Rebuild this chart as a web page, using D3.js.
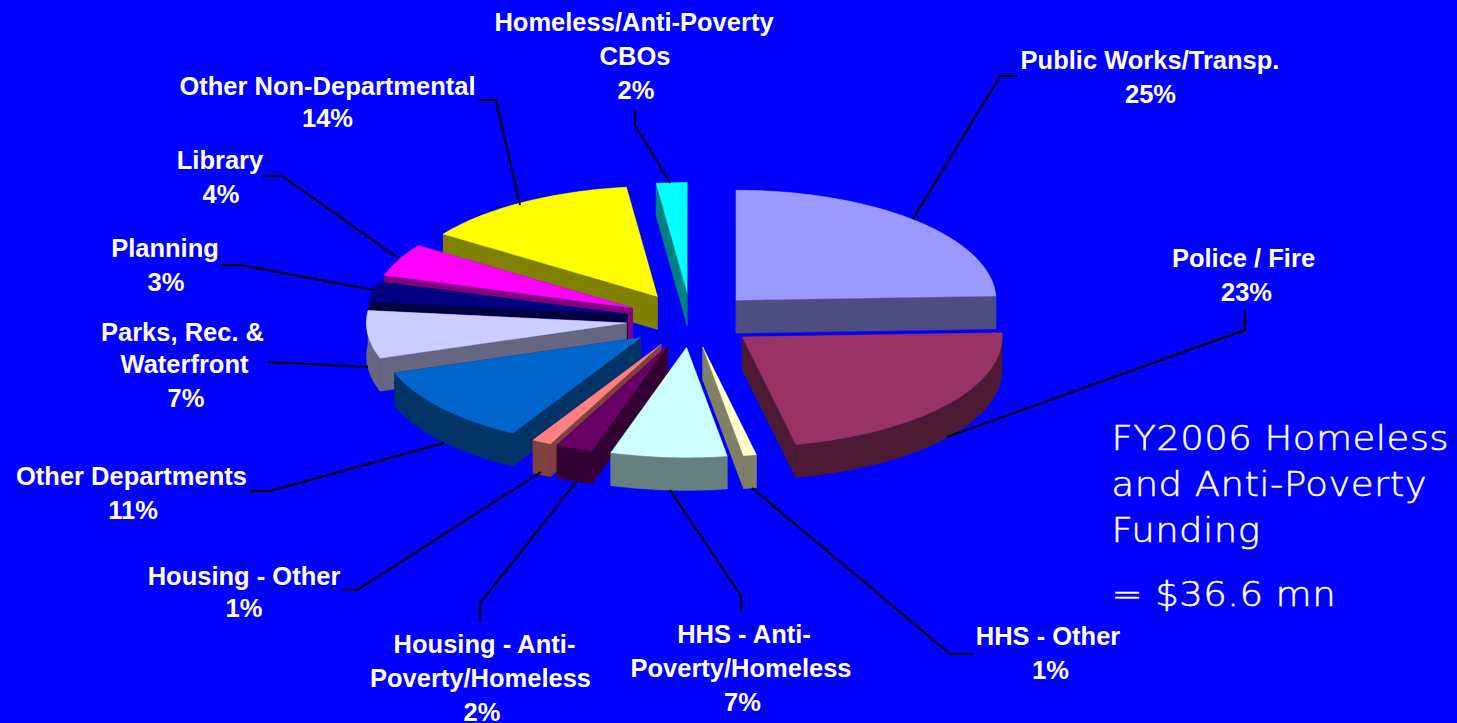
<!DOCTYPE html>
<html><head><meta charset="utf-8">
<script src="https://cdn.jsdelivr.net/npm/d3@7/dist/d3.min.js"></script>
<style>
html,body{margin:0;padding:0;background:#0000ff;overflow:hidden}
svg{display:block}
</style></head><body>
<svg id="chart" width="1457" height="723"></svg>
<script>
// ---- data ----
const categories = ["Public Works/Transp.","Police / Fire","HHS - Other","HHS - Anti-Poverty/Homeless","Housing - Anti-Poverty/Homeless","Housing - Other","Other Departments","Parks, Rec. & Waterfront","Planning","Library","Other Non-Departmental","Homeless/Anti-Poverty CBOs"];
// slice sizes as they are drawn in the picture (angles)
const drawnShares = [24.4,22.3,0.8,7.2,2.3,1.2,11.6,7,3,4.8,13.5,1.9];
// percentages as printed on the labels
const printedPercents = [25,23,1,7,2,1,11,7,3,4,14,2];
const topColors  = ["#9999ff","#993366","#ffffcc","#ccffff","#660066","#ff8080","#0066cc","#ccccff","#000080","#ff00ff","#ffff00","#00ffff"];
const sideColors = ["#4d4d80","#4d1a33","#808066","#668080","#330033","#804040","#003366","#666680","#000040","#800080","#808000","#008080"];
const titleLines = ["FY2006 Homeless","and Anti-Poverty","Funding"];
const totalLine = "= $36.6 mn";

// ---- label layout: text lines, centre x and baseline of each line (last = percent), leader polyline ----
const labelLayout = [
 {lines:["Public Works/Transp."],xs:[1150,1150.5],ys:[69,103],leader:[[1017,76],[1000,76],[913,219]]},
 {lines:["Police / Fire"],xs:[1243.5,1246.5],ys:[267,301],leader:[[1245,311],[1245,330],[947,437]]},
 {lines:["HHS - Other"],xs:[1048,1050.5],ys:[645,679],leader:[[973,654],[950,654],[752,488]]},
 {lines:["HHS - Anti-","Poverty/Homeless"],xs:[744,741,742.5],ys:[643,677,711],leader:[[741,611],[741,596],[670,490]]},
 {lines:["Housing - Anti-","Poverty/Homeless"],xs:[484.5,480.5,482],ys:[653,687,721],leader:[[480,622],[480,603],[577,481]]},
 {lines:["Housing - Other"],xs:[244,244],ys:[585,617],leader:[[342,590],[357,590],[541,472]]},
 {lines:["Other Departments"],xs:[131.5,133],ys:[485,519],leader:[[250,491],[270,491],[444,443]]},
 {lines:["Parks, Rec. &","Waterfront"],xs:[182.5,184.5,186],ys:[341,373,407],leader:[[268,362],[368,367]]},
 {lines:["Planning"],xs:[165,166],ys:[257,291],leader:[[222,265],[240,265],[374,290]]},
 {lines:["Library"],xs:[220,221],ys:[169,203],leader:[[263,176],[282,176],[398,258]]},
 {lines:["Other Non-Departmental"],xs:[327.5,327.5],ys:[95,127],leader:[[478,100],[496,100],[520,205]]},
 {lines:["Homeless/Anti-Poverty","CBOs"],xs:[634,635,636],ys:[31,65,99],leader:[[635,109],[635,125],[670,183]]}
];

// ---- pie geometry ----
const centre = {x:691,y:320}, rx = 260, tilt = 0.423, explode = 65, depth = 33;
const svg = d3.select("#chart");
svg.append("rect").attr("width",1457).attr("height",723).attr("fill","#0000ff");

const pie = d3.pie().sort(null).value(d=>d.share);
const rows = categories.map((name,i)=>({name,share:drawnShares[i],pct:printedPercents[i],top:topColors[i],side:sideColors[i],layout:labelLayout[i]}));
const slices = pie(rows);
const rScale = d3.scaleLinear().domain([0,1]).range([0,rx]);
const project = (a,r,ox,oy,dz)=>[centre.x+ox+Math.sin(a)*rScale(r), centre.y+oy+dz-Math.cos(a)*rScale(r)*tilt];
const line = d3.line();

slices.forEach(s=>{
  const mid=(s.startAngle+s.endAngle)/2;
  s.ox=Math.sin(mid)*explode; s.oy=-Math.cos(mid)*explode*tilt; s.mid=mid;
  const n=Math.max(4,Math.ceil((s.endAngle-s.startAngle)/0.02));
  s.samples=d3.range(n+1).map(k=>s.startAngle+(s.endAngle-s.startAngle)*k/n);
});
const drawOrder = slices.slice().sort((a,b)=>d3.ascending(-Math.cos(a.mid),-Math.cos(b.mid)));

const g = svg.append("g");
drawOrder.forEach(s=>{
  const P=(a,r,dz)=>project(a,r,s.ox,s.oy,dz);
  const slice=g.append("g").attr("class","slice");
  const wall=(pts)=>slice.append("path").attr("d",line(pts)+"Z").attr("fill",s.data.side).attr("stroke",s.data.side).attr("stroke-width",.4);
  wall([P(s.startAngle,0,0),P(s.startAngle,1,0),P(s.startAngle,1,depth),P(s.startAngle,0,depth)]);
  wall([P(s.endAngle,0,0),P(s.endAngle,1,0),P(s.endAngle,1,depth),P(s.endAngle,0,depth)]);
  wall(s.samples.map(a=>P(a,1,0)).concat(s.samples.slice().reverse().map(a=>P(a,1,depth))));
  slice.append("path").attr("d",line([P(0,0,0)].concat(s.samples.map(a=>P(a,1,0))))+"Z").attr("fill",s.data.top).attr("stroke",s.data.top).attr("stroke-width",.4);
});

// ---- leaders ----
slices.forEach(s=>{
  g.append("path").attr("d",line(s.data.layout.leader)).attr("fill","none").attr("stroke","#000").attr("stroke-width",2);
});

// ---- labels ----
slices.forEach(s=>{
  const L=s.data.layout;
  const t=svg.append("text").attr("font-family","'Liberation Sans',Arial,sans-serif").attr("font-weight","700").attr("font-size",25.5).attr("fill","#fff").attr("text-anchor","middle");
  L.lines.concat([s.data.pct+"%"]).forEach((txt,i)=>{
    t.append("tspan").attr("x",L.xs[i]).attr("y",L.ys[i]).text(txt);
  });
});

// ---- title ----
const titleFont="'DejaVu Sans',sans-serif";
const addTitle=(txt,y)=>svg.append("text")
  .attr("transform",`translate(1111.5,${y}) scale(1.09,1)`)
  .attr("font-family",titleFont).attr("font-weight",200).attr("font-size",34).attr("letter-spacing",0.4)
  .attr("fill","#fff").attr("stroke","#fff").attr("stroke-width",0.5).text(txt);
titleLines.forEach((txt,i)=>addTitle(txt,450+i*46));
addTitle(totalLine,606);
</script>
</body></html>
